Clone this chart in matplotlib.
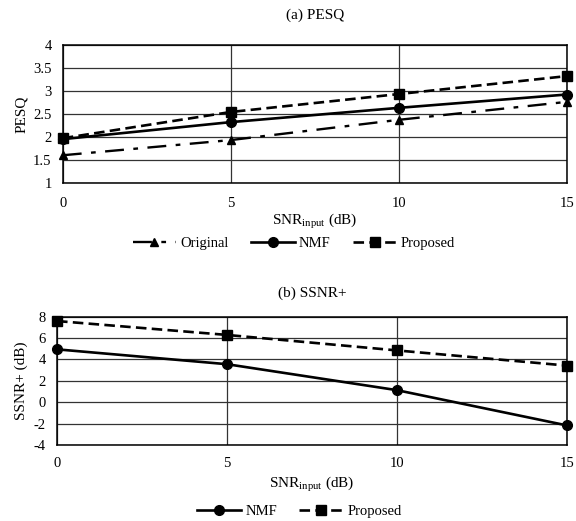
import numpy as np
import matplotlib.pyplot as plt

plt.rcParams['font.family'] = ['Liberation Serif', 'DejaVu Serif']
plt.rcParams['mathtext.fontset'] = 'custom'
plt.rcParams['mathtext.rm'] = 'Liberation Serif'

snr = [0, 5, 10, 15]

# (a) PESQ
pesq_original = [1.60, 1.93, 2.37, 2.76]
pesq_nmf = [1.95, 2.32, 2.63, 2.92]
pesq_proposed = [1.97, 2.54, 2.93, 3.32]

# (b) SSNR+
ssnr_nmf = [4.95, 3.56, 1.13, -2.17]
ssnr_proposed = [7.60, 6.30, 4.85, 3.43]

xlab = r'SNR$_{\mathregular{input}}$ (dB)'

fig = plt.figure(figsize=(5.76, 5.21), dpi=100)
ax1 = fig.add_axes([0.109, 0.649, 0.875, 0.265])
ax2 = fig.add_axes([0.099, 0.146, 0.885, 0.246])


def style(ax, yticks, xpad):
    ax.set_xlim(0, 15)
    ax.set_xticks(snr)
    ax.set_ylim(yticks[0], yticks[-1])
    ax.set_yticks(yticks)
    ax.set_yticklabels(['%g' % t for t in yticks])
    ax.grid(True, color='#333333', linewidth=0.9)
    ax.set_axisbelow(True)
    ax.tick_params(length=0, labelsize=10.5)
    ax.tick_params(axis='x', pad=xpad)
    ax.tick_params(axis='y', pad=8)
    for s in ax.spines.values():
        s.set_linewidth(1.1)


l1, = ax1.plot(snr, pesq_original, color='black', lw=1.7, marker='^', ms=6,
               linestyle=(0, (8, 4, 2, 4)), label='Original')
l2, = ax1.plot(snr, pesq_nmf, color='black', lw=1.9, marker='o', ms=7,
               linestyle='-', label='NMF')
l3, = ax1.plot(snr, pesq_proposed, color='black', lw=1.9, marker='s', ms=7,
               linestyle=(0, (4, 2)), label='Proposed')
style(ax1, [1, 1.5, 2, 2.5, 3, 3.5, 4], 10)
ax1.set_ylabel('PESQ', fontsize=11, labelpad=4)
ax1.set_xlabel(xlab, fontsize=11, labelpad=1)
ax1.set_title('(a) PESQ', fontsize=11, pad=19)
for ln in (l1, l2, l3):
    ln.set_clip_on(False)
fig.legend(handles=[l1, l2, l3], loc='center', bbox_to_anchor=(0.51, 0.533),
           ncol=3, frameon=False, fontsize=10.5, handlelength=3,
           columnspacing=1.5, handletextpad=0.3)

m1, = ax2.plot(snr, ssnr_nmf, color='black', lw=1.9, marker='o', ms=7,
               linestyle='-', label='NMF')
m2, = ax2.plot(snr, ssnr_proposed, color='black', lw=1.9, marker='s', ms=7,
               linestyle=(0, (4, 2)), label='Proposed')
style(ax2, [-4, -2, 0, 2, 4, 6, 8], 9)
ax2.set_ylabel('SSNR+ (dB)', fontsize=11, labelpad=4)
ax2.set_xlabel(xlab, fontsize=11, labelpad=3)
ax2.set_title('(b) SSNR+', fontsize=11, pad=14)
for ln in (m1, m2):
    ln.set_clip_on(False)
fig.legend(handles=[m1, m2], loc='center', bbox_to_anchor=(0.52, 0.018),
           ncol=2, frameon=False, fontsize=10.5, handlelength=3,
           columnspacing=1.5, handletextpad=0.3)

fig.savefig('out.png', dpi=100)
